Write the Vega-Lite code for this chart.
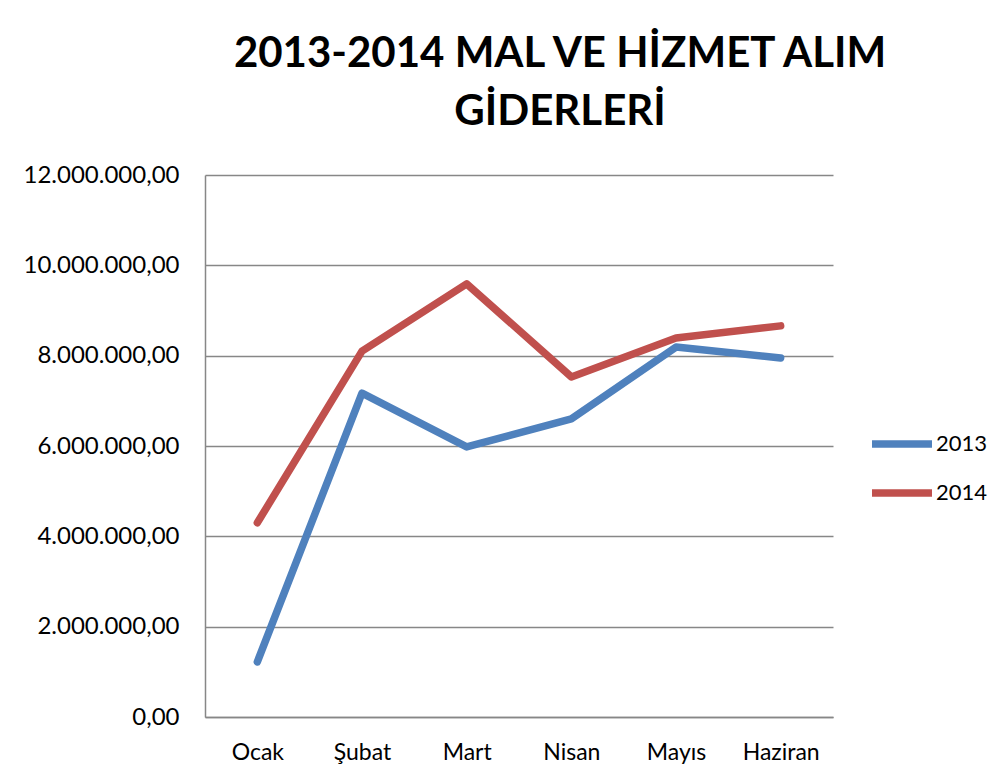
{
  "$schema": "https://vega.github.io/schema/vega-lite/v6.json",
  "autosize": "none",
  "width": 628,
  "height": 542,
  "padding": {"left": 205, "top": 175, "right": 170, "bottom": 66},
  "background": "white",
  "title": {
    "text": ["2013-2014 MAL VE HİZMET ALIM", "GİDERLERİ"],
    "font": "Lato",
    "fontSize": 42,
    "fontWeight": "bold",
    "color": "#000000",
    "anchor": "middle",
    "frame": "group",
    "dx": 41,
    "lineHeight": 58,
    "baseline": "alphabetic",
    "offset": -4
  },
  "data": {
    "values": [
      {"ay": "Ocak", "yil": "2013", "deger": 1220000},
      {"ay": "Şubat", "yil": "2013", "deger": 7170000},
      {"ay": "Mart", "yil": "2013", "deger": 5980000},
      {"ay": "Nisan", "yil": "2013", "deger": 6600000},
      {"ay": "Mayıs", "yil": "2013", "deger": 8190000},
      {"ay": "Haziran", "yil": "2013", "deger": 7950000},
      {"ay": "Ocak", "yil": "2014", "deger": 4300000},
      {"ay": "Şubat", "yil": "2014", "deger": 8100000},
      {"ay": "Mart", "yil": "2014", "deger": 9590000},
      {"ay": "Nisan", "yil": "2014", "deger": 7530000},
      {"ay": "Mayıs", "yil": "2014", "deger": 8390000},
      {"ay": "Haziran", "yil": "2014", "deger": 8660000}
    ]
  },
  "mark": {"type": "line", "strokeWidth": 7.5, "strokeCap": "round", "strokeJoin": "round"},
  "encoding": {
    "x": {
      "field": "ay",
      "type": "nominal",
      "sort": ["Ocak", "Şubat", "Mart", "Nisan", "Mayıs", "Haziran"],
      "scale": {"type": "point", "padding": 0.5},
      "axis": {
        "title": null,
        "labelAngle": 0,
        "ticks": false,
        "grid": false,
        "domain": true,
        "domainColor": "#878787",
        "domainWidth": 1.5,
        "labelFont": "Lato",
        "labelFontSize": 23,
        "labelColor": "#000000",
        "labelPadding": 24
      }
    },
    "y": {
      "field": "deger",
      "type": "quantitative",
      "scale": {"domain": [0, 12000000], "nice": false},
      "axis": {
        "title": null,
        "values": [0, 2000000, 4000000, 6000000, 8000000, 10000000, 12000000],
        "format": ",.2f",
        "ticks": false,
        "grid": true,
        "gridColor": "#878787",
        "gridWidth": 1.5,
        "domain": true,
        "domainColor": "#878787",
        "domainWidth": 1.5,
        "labelFont": "Lato",
        "labelFontSize": 24,
        "labelColor": "#000000",
        "labelPadding": 26
      }
    },
    "color": {
      "field": "yil",
      "type": "nominal",
      "scale": {"domain": ["2013", "2014"], "range": ["#4F81BD", "#C0504D"]},
      "legend": {
        "title": null,
        "orient": "none",
        "legendX": 663,
        "legendY": 235,
        "symbolType": "stroke",
        "symbolSize": 3600,
        "symbolStrokeWidth": 7.5,
        "labelFont": "Lato",
        "labelFontSize": 22,
        "labelColor": "#000000",
        "labelOffset": 0,
        "rowPadding": -10
      }
    }
  },
  "config": {
    "locale": {"number": {"decimal": ",", "thousands": ".", "grouping": [3], "currency": ["", ""]}},
    "view": {"stroke": null}
  }
}
